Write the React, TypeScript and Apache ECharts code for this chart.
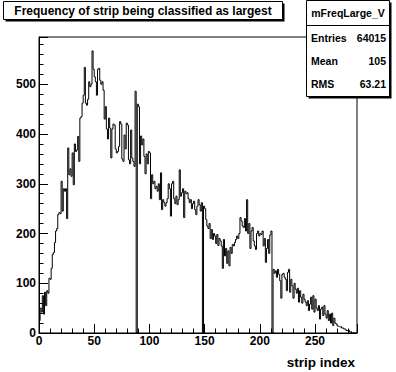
import React, { useEffect, useRef } from "react";
import * as echarts from "echarts";

// Histogram "mFreqLarge_V": counts per strip, bins 0..287 (width 1)
const counts = [
  25, 50, 42, 75, 38, 82, 55, 85, 80, 110,
  108, 130, 158, 162, 182, 205, 210, 238, 242, 240,
  305, 245, 290, 285, 290, 230, 372, 318, 330, 315,
  362, 298, 380, 365, 368, 395, 345, 432, 435, 462,
  478, 534, 462, 458, 470, 505, 495, 500, 567, 530,
  515, 505, 478, 530, 532, 508, 500, 505, 488, 430,
  455, 410, 390, 432, 412, 352, 410, 420, 418, 370,
  362, 365, 375, 425, 420, 350, 345, 398, 370, 422,
  418, 348, 340, 408, 352, 345, 335, 486, 0, 460,
  455, 340, 396, 378, 390, 355, 320, 360, 340, 365,
  362, 270, 318, 300, 305, 290, 295, 285, 300, 268,
  322, 248, 268, 262, 255, 262, 270, 300, 290, 235,
  300, 305, 270, 260, 275, 258, 268, 328, 275, 282,
  290, 232, 285, 280, 282, 270, 262, 268, 250, 260,
  265, 248, 238, 255, 268, 258, 245, 262, 0, 255,
  250, 228, 215, 210, 220, 190, 208, 188, 200, 195,
  180, 198, 176, 190, 185, 175, 130, 188, 155, 170,
  140, 165, 135, 172, 160, 178, 175, 182, 188, 195,
  190, 200, 232, 225, 215, 212, 230, 205, 268, 200,
  220, 170, 205, 212, 185, 175, 168, 200, 205, 195,
  200, 198, 205, 175, 190, 142, 170, 188, 160, 197,
  205, 0, 128, 120, 125, 112, 128, 118, 105, 70,
  118, 120, 112, 108, 85, 122, 128, 82, 108, 95,
  70, 100, 88, 80, 90, 62, 85, 72, 60, 78,
  68, 62, 55, 65, 45, 58, 72, 48, 75, 42,
  68, 50, 45, 55, 28, 48, 52, 35, 55, 38,
  30, 45, 25, 38, 20, 40, 15, 30, 20, 18,
  14, 13, 12, 13, 10, 10, 8, 8, 5, 4,
  6, 2, 3, 0, 1, 0, 0, 0,
];

const xTickLabels = [0, 50, 100, 150, 200, 250];
const yTickLabels = [0, 100, 200, 300, 400, 500];
const xRange = [0, 288];
const yRange = [0, 595];

const titleText = "Frequency of strip being classified as largest";
const xAxisTitle = "strip index";
const statsName = "mFreqLarge_V";
const statsLabels = ["Entries", "Mean", "RMS"];
const statsValues = ["64015", "105", "63.21"];

const FONT = '"Liberation Sans", Arial, sans-serif';

export default function App() {
  const ref = useRef<HTMLDivElement>(null);

  useEffect(() => {
    if (!ref.current) return;
    const chart = echarts.init(ref.current, null, { renderer: "svg" });

    const data: number[][] = counts.map((v, i) => [i, v]);
    data.push([counts.length, counts[counts.length - 1]]);

    const gridPos = { left: 39, top: 37, width: 318, height: 296 };

    const statsRowsY = [37.5, 60.5, 83.5];
    const statsGraphics: any[] = [];
    statsLabels.forEach((lab, i) => {
      statsGraphics.push({
        type: "text",
        x: 311,
        y: statsRowsY[i],
        z: 102,
        style: { text: lab, align: "left", verticalAlign: "middle", font: `bold 10.5px ${FONT}`, fill: "#000" },
      });
      statsGraphics.push({
        type: "text",
        x: 386,
        y: statsRowsY[i],
        z: 102,
        style: { text: statsValues[i], align: "right", verticalAlign: "middle", font: `bold 10.5px ${FONT}`, fill: "#000" },
      });
    });

    const option: any = {
      animation: false,
      backgroundColor: "#fff",
      grid: [
        { ...gridPos, show: true, borderColor: "#000", borderWidth: 1, backgroundColor: "transparent" },
        { ...gridPos, show: false },
      ],
      xAxis: [
        {
          type: "value",
          gridIndex: 0,
          min: xRange[0],
          max: xRange[1],
          interval: 50,
          axisLine: { show: true, lineStyle: { color: "#000", width: 1 } },
          axisTick: { show: true, inside: true, length: 9, lineStyle: { color: "#000", width: 1 } },
          axisLabel: {
            formatter: (v: number) => (xTickLabels.includes(v) ? String(v) : ""),
            color: "#000",
            fontFamily: FONT,
            fontWeight: "bold",
            fontSize: 12,
            margin: 2,
          },
          splitLine: { show: false },
        },
        {
          type: "value",
          gridIndex: 1,
          min: xRange[0],
          max: xRange[1],
          interval: 10,
          axisLine: { show: false },
          axisTick: { show: true, inside: true, length: 4.5, lineStyle: { color: "#000", width: 1 } },
          axisLabel: { show: false },
          splitLine: { show: false },
        },
      ],
      yAxis: [
        {
          type: "value",
          gridIndex: 0,
          min: yRange[0],
          max: yRange[1],
          interval: 100,
          axisLine: { show: true, lineStyle: { color: "#000", width: 1 } },
          axisTick: { show: true, inside: true, length: 9, lineStyle: { color: "#000", width: 1 } },
          axisLabel: {
            formatter: (v: number) => (yTickLabels.includes(v) ? String(v) : ""),
            color: "#000",
            fontFamily: FONT,
            fontWeight: "bold",
            fontSize: 12,
            margin: 3,
          },
          splitLine: { show: false },
        },
        {
          type: "value",
          gridIndex: 1,
          min: yRange[0],
          max: yRange[1],
          interval: 20,
          axisLine: { show: false },
          axisTick: { show: true, inside: true, length: 4.5, lineStyle: { color: "#000", width: 1 } },
          axisLabel: { show: false },
          splitLine: { show: false },
        },
      ],
      series: [
        {
          type: "line",
          xAxisIndex: 0,
          yAxisIndex: 0,
          step: "end",
          symbol: "none",
          data,
          lineStyle: { color: "#000", width: 1 },
          clip: true,
        },
      ],
      graphic: [
        // title box with shadow
        { type: "rect", z: 100, shape: { x: 5.5, y: 3.5, width: 279, height: 18 }, style: { fill: "#000" } },
        { type: "rect", z: 101, shape: { x: 3.5, y: 1.5, width: 279, height: 18 }, style: { fill: "#fff", stroke: "#000", lineWidth: 1 } },
        {
          type: "text",
          x: 143,
          y: 11,
          z: 102,
          style: { text: titleText, align: "center", verticalAlign: "middle", font: `bold 12px ${FONT}`, fill: "#000" },
        },
        // stats box with shadow
        { type: "rect", z: 100, shape: { x: 308.5, y: 2.5, width: 83, height: 96 }, style: { fill: "#000" } },
        { type: "rect", z: 101, shape: { x: 306.5, y: 0.5, width: 83, height: 96 }, style: { fill: "#fff", stroke: "#000", lineWidth: 1 } },
        { type: "line", z: 102, shape: { x1: 306.5, y1: 25.5, x2: 389.5, y2: 25.5 }, style: { stroke: "#000", lineWidth: 1 } },
        {
          type: "text",
          x: 348,
          y: 13,
          z: 102,
          style: { text: statsName, align: "center", verticalAlign: "middle", font: `bold 10.5px ${FONT}`, fill: "#000" },
        },
        ...statsGraphics,
        // x-axis title
        {
          type: "text",
          x: 355,
          y: 362,
          z: 102,
          style: { text: xAxisTitle, align: "right", verticalAlign: "middle", font: `bold 13.5px ${FONT}`, fill: "#000" },
        },
      ],
    };

    chart.setOption(option);
    return () => chart.dispose();
  }, []);

  return (
    <div
      ref={ref}
      style={{ position: "fixed", left: 0, top: 0, width: 396, height: 372, background: "#fff" }}
    />
  );
}
